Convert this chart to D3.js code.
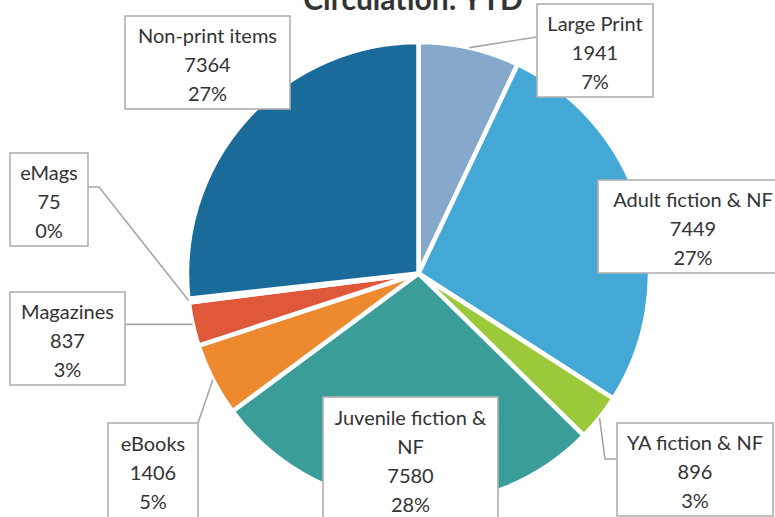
<!DOCTYPE html>
<html>
<head>
<meta charset="utf-8">
<script src="https://cdn.jsdelivr.net/npm/d3@7"></script>
<style>
  html, body { margin: 0; padding: 0; background: #fff; }
  svg { display: block; }
  text { font-family: Lato, "Open Sans", sans-serif; fill: #333; }
</style>
</head>
<body>
<svg id="chart" width="775" height="517"></svg>
<script>
// chart data
const categories = ["Large Print", "Adult fiction & NF", "YA fiction & NF", "Juvenile fiction & NF",
                    "eBooks", "Magazines", "eMags", "Non-print items"];
const values = [1941, 7449, 896, 7580, 1406, 837, 75, 7364];
const colors = ["#86a9cb", "#44a8d7", "#9cc93a", "#3a9d9a", "#ed892f", "#e0583a", "#c0392b", "#1a6b9a"];
const title = "Circulation: YTD";

// label boxes and leader lines (layout only)
const labelBoxes = {
  "Large Print":           { x: 537, y: 4,   w: 116, h: 93,  leader: [[537, 37]] },
  "Adult fiction & NF":    { x: 598, y: 180, w: 190, h: 93 },
  "YA fiction & NF":       { x: 617, y: 423, w: 156, h: 93,  leader: [[605, 459], [617, 459]] },
  "Juvenile fiction & NF": { x: 323, y: 397, w: 175, h: 125, wrap: ["Juvenile fiction &", "NF"] },
  "eBooks":                { x: 108, y: 423, w: 90,  h: 95,  leader: [[198, 423]] },
  "Magazines":             { x: 10,  y: 292, w: 115, h: 93,  leader: [[125, null]] },
  "eMags":                 { x: 10,  y: 153, w: 78,  h: 93,  leader: [[99, 187], [88, 187]] },
  "Non-print items":       { x: 125, y: 16,  w: 165, h: 93 }
};

const svg = d3.select("#chart");
const cx = 418.5, cy = 273.5, radius = 231.5;
const total = d3.sum(values);

const pie = d3.pie().sort(null).value(d => d.value);
const arc = d3.arc().innerRadius(0).outerRadius(radius);

const data = categories.map((c, i) => ({ name: c, value: values[i], color: colors[i] }));
const arcs = pie(data);

const g = svg.append("g").attr("transform", `translate(${cx},${cy})`);

g.selectAll("path.slice")
  .data(arcs)
  .enter()
  .append("path")
  .attr("class", "slice")
  .attr("d", arc)
  .attr("fill", d => d.data.color)
  .attr("stroke", "#fff")
  .attr("stroke-width", 4.5)
  .attr("stroke-linejoin", "round");

// leader lines from the slice edge to the boxes
arcs.forEach(d => {
  const box = labelBoxes[d.data.name];
  if (!box || !box.leader) return;
  const mid = (d.startAngle + d.endAngle) / 2;
  const px = cx + radius * Math.sin(mid);
  const py = cy - radius * Math.cos(mid);
  const pts = [[px, py]].concat(box.leader.map(p => [p[0], p[1] === null ? py : p[1]]));
  svg.append("path")
    .attr("d", d3.line()(pts))
    .attr("fill", "none")
    .attr("stroke", "#a6a6a6")
    .attr("stroke-width", 1.6);
});

// label boxes
arcs.forEach(d => {
  const box = labelBoxes[d.data.name];
  const pct = Math.round(d.data.value / total * 100) + "%";
  const lines = (box.wrap || [d.data.name]).concat([String(d.data.value), pct]);
  const lg = svg.append("g");
  lg.append("rect")
    .attr("x", box.x).attr("y", box.y)
    .attr("width", box.w).attr("height", box.h)
    .attr("fill", "#fff")
    .attr("stroke", "#b0b0b0")
    .attr("stroke-width", 1.6);
  const lh = 29;
  const mid = box.y + box.h / 2 + 2;
  const first = mid - (lines.length - 1) * lh / 2;
  lg.selectAll("text")
    .data(lines)
    .enter()
    .append("text")
    .attr("x", box.x + box.w / 2)
    .attr("y", (t, i) => first + i * lh + 7)
    .attr("text-anchor", "middle")
    .attr("font-size", 20)
    .text(t => t);
});

// title (cut off at top, as in the source)
svg.append("text")
  .attr("x", 413)
  .attr("y", 10)
  .attr("text-anchor", "middle")
  .attr("font-size", 30)
  .attr("font-weight", "bold")
  .text(title);
</script>
</body>
</html>
